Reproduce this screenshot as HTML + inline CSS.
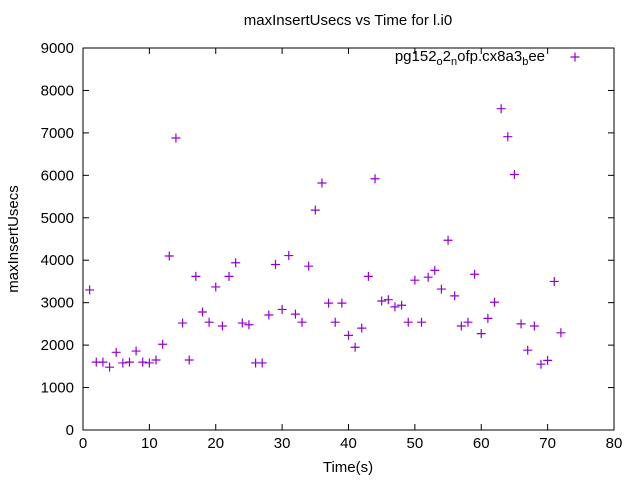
<!DOCTYPE html>
<html><head><meta charset="utf-8"><style>
body{margin:0;background:#fff;}
svg{display:block;font-family:"Liberation Sans",sans-serif;}
</style></head><body>
<svg id="chart" width="640" height="480" viewBox="0 0 640 480"></svg>
<script>
const xValues=[1,2,3,4,5,6,7,8,9,10,11,12,13,14,15,16,17,18,19,20,21,22,23,24,25,26,27,28,29,30,31,32,33,34,35,36,37,38,39,40,41,42,43,44,45,46,47,48,49,50,51,52,53,54,55,56,57,58,59,60,61,62,63,64,65,66,67,68,69,70,71,72];
const yValues=[3300,1600,1600,1480,1830,1580,1600,1860,1600,1580,1650,2020,4100,6880,2520,1650,3620,2780,2540,3370,2450,3620,3940,2520,2480,1580,1580,2710,3900,2840,4110,2730,2540,3860,5180,5820,2990,2540,2990,2230,1950,2400,3620,5920,3040,3070,2900,2940,2540,3530,2540,3600,3760,3320,4470,3160,2450,2540,3670,2270,2630,3010,7570,6910,6020,2500,1880,2450,1550,1640,3500,2290];
const xTicks=[0,10,20,30,40,50,60,70,80];
const yTicks=[0,1000,2000,3000,4000,5000,6000,7000,8000,9000];
const L=83,R=614,T=48,B=430;
const sx=v=>L+(v-0)/(80-0)*(R-L);
const sy=v=>B-(v-0)/(9000-0)*(B-T);
const svg=document.getElementById('chart');
const NS='http://www.w3.org/2000/svg';
function mk(tag,attrs,parent){const e=document.createElementNS(NS,tag);for(const k in attrs)e.setAttribute(k,attrs[k]);(parent||svg).appendChild(e);return e;}
const frame=mk('rect',{x:L,y:T,width:R-L,height:B-T,fill:'none',stroke:'#000','stroke-width':1});


xTicks.forEach(t=>{const x=sx(t);
 mk('line',{x1:x,y1:B,x2:x,y2:B-6,stroke:'#000'});mk('line',{x1:x,y1:T,x2:x,y2:T+6,stroke:'#000'});
 const tx=mk('text',{x:x,y:B+18,'text-anchor':'middle','font-size':15});tx.textContent=t;
 
 });
yTicks.forEach(t=>{const y=sy(t);
 mk('line',{x1:L,y1:y,x2:L+6,y2:y,stroke:'#000'});mk('line',{x1:R,y1:y,x2:R-6,y2:y,stroke:'#000'});
 const tx=mk('text',{x:L-9,y:y+5,'text-anchor':'end','font-size':15});tx.textContent=t;
 
 });
function plus(x,y,name){const g=mk('path',{d:`M${x-4.5},${y}H${x+4.5}M${x},${y-4.5}V${y+4.5}`,stroke:'#9400d3','stroke-width':1.2,fill:'none'});
 
 }
xValues.forEach((v,i)=>plus(sx(v),sy(yValues[i]),'data-point'));
const title=mk('text',{x:348,y:25,'text-anchor':'middle','font-size':15});title.textContent='maxInsertUsecs vs Time for l.i0';


const xl=mk('text',{x:348,y:472,'text-anchor':'middle','font-size':15});xl.textContent='Time(s)';


const yl=mk('text',{x:18,y:239,'text-anchor':'middle','font-size':15,transform:'rotate(-90 18 239)'});yl.textContent='maxInsertUsecs';


const lg=mk('text',{x:545,y:61,'text-anchor':'end','font-size':15});
lg.innerHTML='pg152<tspan font-size="11" dy="4">o</tspan><tspan dy="-4">2</tspan><tspan font-size="11" dy="4">n</tspan><tspan dy="-4">ofp.cx8a3</tspan><tspan font-size="11" dy="4">b</tspan><tspan dy="-4">ee</tspan>';


plus(575,57,'legend-marker');
</script>
</body></html>
